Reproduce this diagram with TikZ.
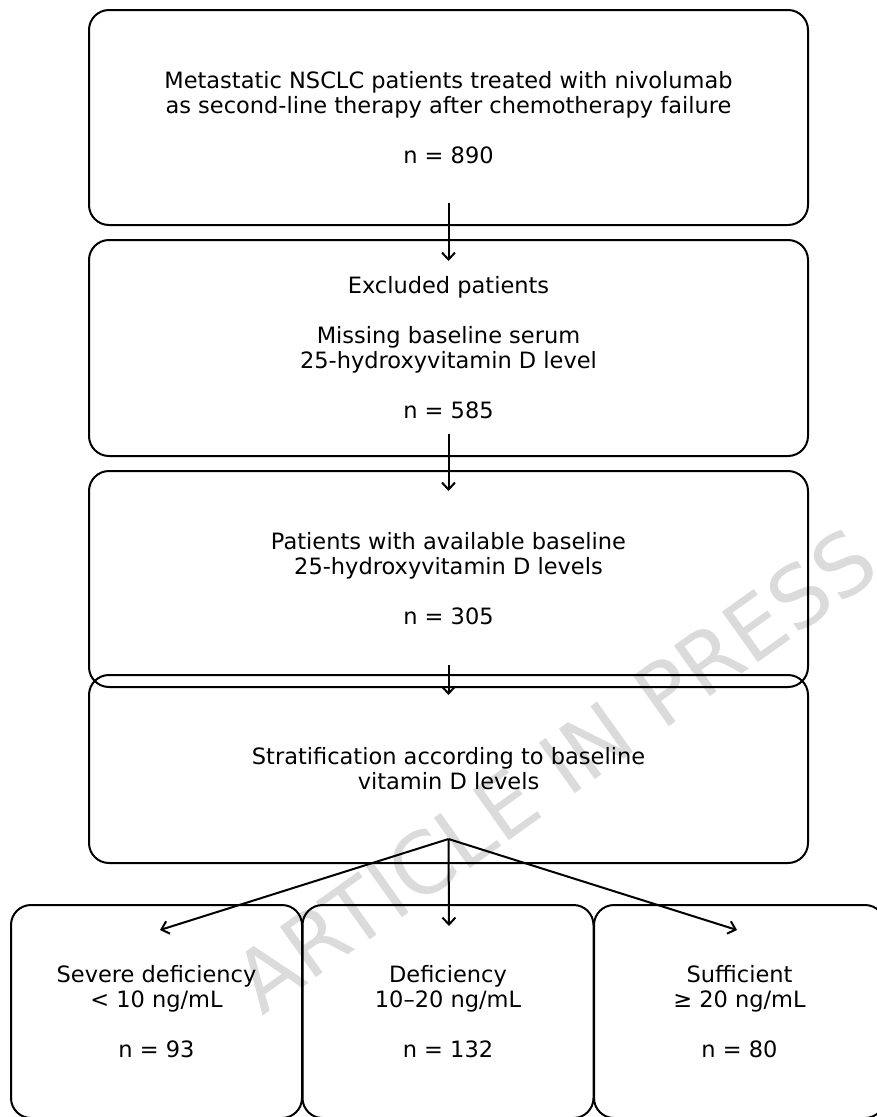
\documentclass[tikz,border=0pt]{standalone}
\usepackage{fontspec}
\setmainfont{DejaVu Sans}
\usetikzlibrary{positioning,arrows.meta}
\tikzset{
  stage/.style = {draw, line width=2pt, rounded corners=20pt, align=center,
    font=\fontsize{22.5}{25}\selectfont, minimum width=719pt, inner sep=0pt},
  group/.style = {stage, minimum width=291pt, minimum height=213pt},
  flow/.style = {line width=2pt, -{Straight Barb[length=7pt,width=13pt,line width=2pt]}},
  stamp/.style = {font=\fontsize{85}{85}\selectfont, text=black!14, rotate=35.5}
}

\begin{document}
\begin{tikzpicture}[x=1pt,y=-1pt]
  \useasboundingbox (0,0) rectangle (876,1117);
  \node[stamp] (mark) at (555,770) {ARTICLE IN PRESS};
  % main column
  \node[stage, minimum height=215pt] (cohort) at (448.5,117.5)
    {Metastatic NSCLC patients treated with nivolumab\\
     as second-line therapy after chemotherapy failure\\[25pt]
     n = 890};
  \node[stage, minimum height=216pt] (excl) at (448.5,348)
    {Excluded patients\\[25pt]
     Missing baseline serum\\
     25-hydroxyvitamin D level\\[25pt]
     n = 585};
  \node[stage, minimum height=216pt] (avail) at (448.5,579)
    {Patients with available baseline\\
     25-hydroxyvitamin D levels\\[25pt]
     n = 305};
  \node[stage, minimum height=188pt] (strat) at (448.5,769)
    {Stratification according to baseline\\
     vitamin D levels};
  % vitamin D groups
  \node[group] (severe) at (156.5,1011.5)
    {Severe deficiency\\ < 10 ng/mL\\[25pt] n = 93};
  \node[group] (defic) at (448,1011.5)
    {Deficiency\\ 10–20 ng/mL\\[25pt] n = 132};
  \node[group] (suff) at (739.5,1011.5)
    {Sufficient\\ ≥ 20 ng/mL\\[25pt] n = 80};
  % arrows
  \draw[flow] ([yshift=23pt]cohort.south) -- ([yshift=-22pt]excl.north);
  \draw[flow] ([yshift=23pt]excl.south) -- ([yshift=-21pt]avail.north);
  \draw[flow] ([yshift=23pt]avail.south) -- ([yshift=-21pt]strat.north);
  \coordinate (split) at ([yshift=25pt]strat.south);
  \draw[flow] (split) -- ([xshift=3.5pt,yshift=-26pt]severe.north);
  \draw[flow] (split) -- ([xshift=1pt,yshift=-22pt]defic.north);
  \draw[flow] (split) -- ([xshift=-2.5pt,yshift=-26pt]suff.north);
\end{tikzpicture}
\end{document}
